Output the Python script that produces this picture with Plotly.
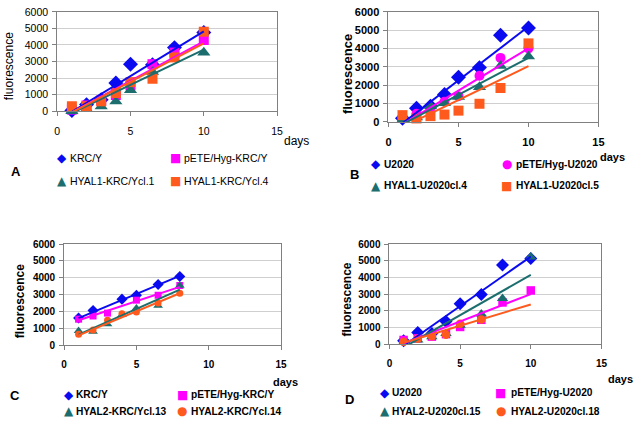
import plotly.graph_objects as go

W, H = 638, 424

# ---------------- data ----------------
days_A = [1, 2, 3, 4, 5, 6.5, 8, 10]
A_names = ["KRC/Y", "pETE/Hyg-KRC/Y", "HYAL1-KRC/Ycl.1", "HYAL1-KRC/Ycl.4"]
A_krc = [50, 400, 700, 1700, 2830, 2800, 3840, 4750]
A_pete = [100, 350, 650, 980, 1560, 2840, 3540, 4300]
A_cl1 = [0, 130, 290, 590, 1270, 2370, 3150, 3540]
A_cl4 = [300, 300, 600, 1100, 1760, 1960, 3250, 4800]
A_trend_x = [1, 10]
A_trend = [[-30, 4820], [-70, 4210], [-110, 3720], [-70, 4100]]

days_B = [1, 2, 3, 4, 5, 6.5, 8, 10]
B_names = ["U2020", "pETE/Hyg-U2020", "HYAL1-U2020cl.4", "HYAL1-U2020cl.5"]
B_u2020 = [200, 750, 850, 1495, 2430, 2960, 4720, 5120]
B_pete = [250, 450, 750, 1100, 1400, 2520, 3490, 4010]
B_cl4 = [100, 250, 860, 1020, 1370, 1900, 3050, 3570]
B_cl5 = [370, 190, 315, 400, 615, 990, 1850, 4280]
B_trend_x = [1, 10]
B_trend = [[-76, 5200], [-134, 4010], [-130, 3490], [-280, 3040]]

days_C = [1, 2, 3, 4, 5, 6.5, 8]
C_names = ["KRC/Y", "pETE/Hyg-KRC/Y", "HYAL2-KRC/Ycl.13", "HYAL2-KRC/Ycl.14"]
C_krc = [1615, 2060, None, 2730, 2960, 3600, 4080]
C_pete = [1540, 1730, 1900, None, 2670, 2960, 3540]
C_cl13 = [850, 800, 1240, 1800, 2190, 2350, 3540]
C_cl14 = [650, 900, 1480, 1860, 1960, 2500, 3080]
C_trend_x = [1, 8]
C_trend = [[1600, 4110], [1480, 3460], [620, 3300], [580, 3080]]

days_D = [1, 2, 3, 4, 5, 6.5, 8, 10]
D_names = ["U2020", "pETE/Hyg-U2020", "HYAL2-U2020cl.15", "HYAL2-U2020cl.18"]
D_u2020 = [200, 700, 640, 1360, 2420, 2980, 4740, 5130]
D_pete = [250, 350, 450, 600, 1030, 1460, 2500, 3220]
D_cl15 = [100, 250, 450, 640, 1130, 1810, 2730, 5220]
D_cl18 = [150, 320, 470, 560, 1220, 1480, None, None]
D_trend_x = [1, 10]
D_trend = [[-95, 5250], [50, 3000], [-193, 4150], [80, 2380]]

x_ticks = [0, 5, 10, 15]
y_ticks = [0, 1000, 2000, 3000, 4000, 5000, 6000]

# ---------------- styles ----------------
BLUE = "#0A0AF0"
MAG = "#FF00FF"
TEAL = "#1C6E6E"
ORANGE = "#FF5A1E"
FONT = "Liberation Sans, Arial, sans-serif"
GLYPH_FONT = "DejaVu Sans"

panels = [
    dict(key="A", days=days_A, names=A_names, ys=[A_krc, A_pete, A_cl1, A_cl4],
         tx=A_trend_x, trend=A_trend,
         symbols=["diamond", "square", "triangle-up", "square"],
         glyphs=["\u25c6", "\u25a0", "\u25b2", "\u25a0"],
         colors=[BLUE, MAG, TEAL, ORANGE],
         box=(55, 278, 6, 108.3), bold=False, msize=10, tfs=10.5, lfs=10.5,
         label=(6, 170), days_pos=(298, 139), fl=(6, 62, 12),
         leg_x=(60, 175), leg_tx=(66, 182), leg_y=(156, 180)),
    dict(key="B", days=days_B, names=B_names, ys=[B_u2020, B_pete, B_cl4, B_cl5],
         tx=B_trend_x, trend=B_trend,
         symbols=["diamond", "circle", "triangle-up", "square"],
         glyphs=["\u25c6", "\u25cf", "\u25b2", "\u25a0"],
         colors=[BLUE, MAG, TEAL, ORANGE],
         box=(391, 604, 6, 119.3), bold=True, msize=10, tfs=11, lfs=10.2,
         label=(350, 173), days_pos=(618, 155), fl=(349, 70, 13),
         leg_x=(378, 511), leg_tx=(384, 518), leg_y=(163, 185)),
    dict(key="C", days=days_C, names=C_names, ys=[C_krc, C_pete, C_cl13, C_cl14],
         tx=C_trend_x, trend=C_trend,
         symbols=["diamond", "square", "triangle-up", "circle"],
         glyphs=["\u25c6", "\u25a0", "\u25b2", "\u25cf"],
         colors=[BLUE, MAG, TEAL, ORANGE],
         box=(62, 282, 245, 349), bold=True, msize=7, tfs=10, lfs=10.2,
         label=(5, 401), days_pos=(287, 387), fl=(18, 304, 12),
         leg_x=(67, 182), leg_tx=(72, 189), leg_y=(400, 417)),
    dict(key="D", days=days_D, names=D_names, ys=[D_u2020, D_pete, D_cl15, D_cl18],
         tx=D_trend_x, trend=D_trend,
         symbols=["diamond", "square", "triangle-up", "circle"],
         glyphs=["\u25c6", "\u25a0", "\u25b2", "\u25cf"],
         colors=[BLUE, MAG, TEAL, ORANGE],
         box=(392, 607, 245, 348), bold=True, msize=8.5, tfs=10, lfs=10.2,
         label=(345, 405), days_pos=(626, 384), fl=(349, 302, 12),
         leg_x=(387, 505), leg_tx=(393, 513), leg_y=(398, 417)),
]

fig = go.Figure()
annotations = []
layout_axes = {}

for i, p in enumerate(panels):
    n = i + 1
    xa = "x" if n == 1 else f"x{n}"
    ya = "y" if n == 1 else f"y{n}"
    weight = "bold" if p["bold"] else "normal"
    x0, x1, y0, y1 = p["box"]

    # markers
    for s in range(4):
        sz = p["msize"] + (1.5 if p["symbols"][s] in ("diamond", "triangle-up") else 0)
        fig.add_trace(go.Scatter(
            x=p["days"], y=p["ys"][s], mode="markers", name=p["names"][s],
            marker=dict(symbol=p["symbols"][s], color=p["colors"][s], size=sz,
                        line=dict(width=0)),
            xaxis=xa, yaxis=ya, showlegend=False, cliponaxis=False))
    # trendlines
    for s in range(4):
        fig.add_trace(go.Scatter(
            x=p["tx"], y=p["trend"][s], mode="lines",
            line=dict(color=p["colors"][s], width=2),
            xaxis=xa, yaxis=ya, showlegend=False, hoverinfo="skip"))

    tickfont = dict(family=FONT, size=p["tfs"], color="black", weight=weight)
    layout_axes["xaxis" if n == 1 else f"xaxis{n}"] = dict(
        domain=[x0 / W, x1 / W], anchor=ya, range=[0, 15],
        tickvals=x_ticks, ticktext=[str(v) for v in x_ticks],
        showgrid=False, zeroline=False, showline=True, linecolor="#808080",
        linewidth=1, mirror=True, ticks="outside", ticklen=4, tickcolor="#808080",
        ticklabelstandoff=6, tickfont=tickfont, fixedrange=True)
    layout_axes["yaxis" if n == 1 else f"yaxis{n}"] = dict(
        domain=[1 - y1 / H, 1 - y0 / H], anchor=xa, range=[0, 6000],
        tickvals=y_ticks, ticktext=[str(v) for v in y_ticks],
        showgrid=True, gridcolor="#cfcfcf", gridwidth=1, zeroline=False,
        showline=True, linecolor="#808080", linewidth=1, mirror=True,
        ticks="outside", ticklen=4, tickcolor="#808080", ticklabelstandoff=2,
        tickfont=tickfont, fixedrange=True)

    # panel letter
    annotations.append(dict(x=p["label"][0] / W, y=1 - p["label"][1] / H, xref="paper",
                            yref="paper", text=p["key"], showarrow=False,
                            xanchor="left", yanchor="middle",
                            font=dict(family=FONT, size=13, color="black", weight="bold")))
    # days
    annotations.append(dict(x=p["days_pos"][0] / W, y=1 - p["days_pos"][1] / H,
                            xref="paper", yref="paper", text="days", showarrow=False,
                            xanchor="center", yanchor="middle",
                            font=dict(family=FONT, size=12 if not p["bold"] else 11,
                                      color="black", weight=weight)))
    # y title
    fx, fy, fs = p["fl"]
    annotations.append(dict(x=fx / W, y=1 - fy / H, xref="paper", yref="paper",
                            text="fluorescence", showarrow=False, textangle=-90,
                            xanchor="center", yanchor="middle",
                            font=dict(family=FONT, size=fs, color="black", weight=weight)))
    # legend
    for s in range(4):
        col = s % 2
        row = s // 2
        gx = p["leg_x"][col]
        tx = p["leg_tx"][col]
        gy = p["leg_y"][row]
        annotations.append(dict(x=gx / W, y=1 - gy / H, xref="paper", yref="paper",
                                text=p["glyphs"][s], showarrow=False,
                                xanchor="center", yanchor="middle",
                                font=dict(family=GLYPH_FONT, size=12, color=p["colors"][s])))
        annotations.append(dict(x=tx / W, y=1 - gy / H, xref="paper", yref="paper",
                                text=p["names"][s], showarrow=False,
                                xanchor="left", yanchor="middle",
                                font=dict(family=FONT, size=p["lfs"],
                                          color="black", weight=weight)))

fig.update_layout(
    width=W, height=H, margin=dict(l=0, r=0, t=0, b=0),
    paper_bgcolor="white", plot_bgcolor="white",
    showlegend=False, annotations=annotations, **layout_axes)

fig.write_html("out.html", config={"displayModeBar": False},
               post_script="document.body.style.margin='0';document.body.style.padding='0';")
